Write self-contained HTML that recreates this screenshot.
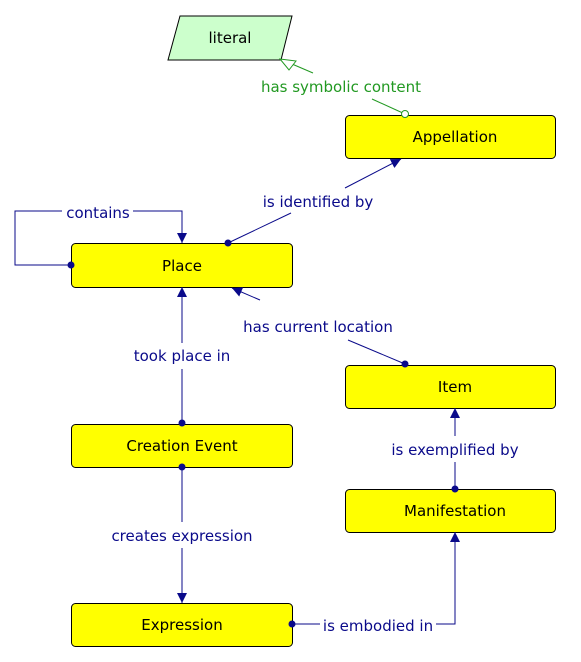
<!DOCTYPE html>
<html><head><meta charset="utf-8"><style>
html,body{margin:0;padding:0;background:#fff;}
svg{display:block;}
text{font-family:"DejaVu Sans","Liberation Sans",sans-serif;font-size:15px;}
</style></head><body>
<svg width="581" height="662" viewBox="0 0 581 662" xmlns="http://www.w3.org/2000/svg">
<defs>
<marker id="a" viewBox="0 0 10 10" refX="10" refY="5" markerWidth="10" markerHeight="10" markerUnits="userSpaceOnUse" orient="auto"><path d="M0,0 L10,5 L0,10 z" fill="#0a0a8a"/></marker>
</defs>
<polygon points="180,16 292,16 281,60 168,60" fill="#ccffcc" stroke="#000" stroke-width="1"/>
<text x="230" y="43" text-anchor="middle" fill="#000">literal</text>
<g fill="#ffff00" stroke="#000" stroke-width="1">
<rect x="345.5" y="115.5" width="210" height="43" rx="4"/>
<rect x="71.5" y="243.5" width="221" height="44" rx="4"/>
<rect x="345.5" y="365.5" width="210" height="43" rx="4"/>
<rect x="71.5" y="424.5" width="221" height="43" rx="4"/>
<rect x="345.5" y="489.5" width="210" height="43" rx="4"/>
<rect x="71.5" y="603.5" width="221" height="43" rx="4"/>
</g>
<g fill="#000" text-anchor="middle">
<text x="455" y="142">Appellation</text>
<text x="182" y="271">Place</text>
<text x="455" y="392">Item</text>
<text x="182" y="451">Creation Event</text>
<text x="455" y="516">Manifestation</text>
<text x="182" y="630">Expression</text>
</g>
<g stroke="#229922" fill="none" stroke-width="1">
<line x1="405" y1="114" x2="372" y2="99"/>
<line x1="313" y1="73" x2="292" y2="64"/>
<polygon points="280,59 296,61 289,70" fill="#fff"/>
<circle cx="405" cy="114" r="3.5" fill="#fff"/>
</g>
<text x="341" y="92" text-anchor="middle" fill="#229922">has symbolic content</text>
<g stroke="#0a0a8a" fill="none" stroke-width="1">
<line x1="228" y1="243" x2="291" y2="213"/>
<line x1="345" y1="188" x2="401" y2="159" marker-end="url(#a)"/>
<polyline points="71,265 15,265 15,211 62,211"/>
<polyline points="133,211 182,211 182,243" marker-end="url(#a)"/>
<line x1="405" y1="364" x2="348" y2="340"/>
<line x1="260" y1="300" x2="232" y2="288" marker-end="url(#a)"/>
<line x1="182" y1="423" x2="182" y2="369"/>
<line x1="182" y1="343" x2="182" y2="287" marker-end="url(#a)"/>
<line x1="455" y1="489" x2="455" y2="462"/>
<line x1="455" y1="436" x2="455" y2="408" marker-end="url(#a)"/>
<line x1="182" y1="467" x2="182" y2="522"/>
<line x1="182" y1="548" x2="182" y2="603" marker-end="url(#a)"/>
<polyline points="292,624 320,624"/>
<polyline points="436,624 455,624 455,532" marker-end="url(#a)"/>
</g>
<g fill="#0a0a8a">
<circle cx="228" cy="243" r="3.5"/>
<circle cx="71" cy="265" r="3.5"/>
<circle cx="405" cy="364" r="3.5"/>
<circle cx="182" cy="423" r="3.5"/>
<circle cx="455" cy="489" r="3.5"/>
<circle cx="182" cy="467" r="3.5"/>
<circle cx="292" cy="624" r="3.5"/>
</g>
<g fill="#0a0a8a" text-anchor="middle">
<text x="318" y="207">is identified by</text>
<text x="98" y="218">contains</text>
<text x="318" y="332">has current location</text>
<text x="182" y="361">took place in</text>
<text x="455" y="455">is exemplified by</text>
<text x="182" y="541">creates expression</text>
<text x="378" y="631">is embodied in</text>
</g>
</svg>
</body></html>
